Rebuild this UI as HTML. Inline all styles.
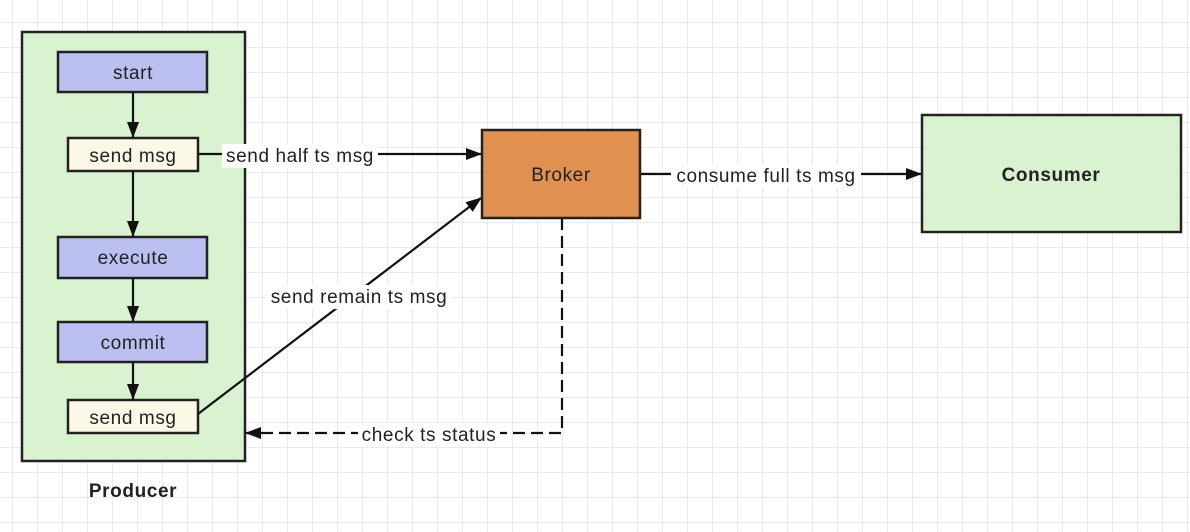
<!DOCTYPE html>
<html><head><style>
html,body{margin:0;padding:0;background:#fff;}
svg{display:block;}
text{font-family:"Liberation Sans",Arial,sans-serif;fill:#222;font-size:19px;letter-spacing:0.6px;}
</style></head><body>
<svg width="1190" height="532" viewBox="0 0 1190 532" xmlns="http://www.w3.org/2000/svg">
<defs>
<pattern id="g" x="12" y="22" width="25" height="25" patternUnits="userSpaceOnUse">
<path d="M0 0H25M0 0V25" stroke="#e4e4e4" stroke-width="1.5" fill="none"/>
</pattern>
<marker id="a" markerWidth="16" markerHeight="12" refX="15" refY="6" orient="auto" markerUnits="userSpaceOnUse">
<path d="M0 0L16 6L0 12z" fill="#111"/>
</marker>
</defs>
<rect width="1190" height="532" fill="url(#g)"/>
<!-- Producer -->
<rect x="22" y="32" width="223" height="429" fill="#d9f2cf" stroke="#222" stroke-width="2.5"/>
<text x="133" y="497" font-weight="bold" text-anchor="middle">Producer</text>
<rect x="58" y="52" width="149" height="40" fill="#bcc0f0" stroke="#222" stroke-width="2.5"/>
<text x="133" y="79" text-anchor="middle">start</text>
<rect x="68" y="138" width="130" height="33" fill="#fbf8e6" stroke="#222" stroke-width="2.5"/>
<text x="133" y="162" text-anchor="middle">send msg</text>
<rect x="58" y="237" width="149" height="41" fill="#bcc0f0" stroke="#222" stroke-width="2.5"/>
<text x="133" y="264" text-anchor="middle">execute</text>
<rect x="58" y="322" width="149" height="40" fill="#bcc0f0" stroke="#222" stroke-width="2.5"/>
<text x="133" y="349" text-anchor="middle">commit</text>
<rect x="68" y="400" width="130" height="33" fill="#fbf8e6" stroke="#222" stroke-width="2.5"/>
<text x="133" y="424" text-anchor="middle">send msg</text>
<g stroke="#111" stroke-width="2.2" fill="none">
<line x1="133" y1="92" x2="133" y2="137" marker-end="url(#a)"/>
<line x1="133" y1="171" x2="133" y2="236" marker-end="url(#a)"/>
<line x1="133" y1="278" x2="133" y2="321" marker-end="url(#a)"/>
<line x1="133" y1="362" x2="133" y2="399" marker-end="url(#a)"/>
<line x1="198" y1="154" x2="481" y2="154" marker-end="url(#a)"/>
<line x1="198" y1="414" x2="481" y2="198" marker-end="url(#a)"/>
<line x1="640" y1="174" x2="921" y2="174" marker-end="url(#a)"/>
<polyline points="562,218 562,433 246,433" stroke-dasharray="12,6" marker-end="url(#a)"/>
</g>
<!-- Broker -->
<rect x="482" y="130" width="158" height="88" fill="#e0904f" stroke="#222" stroke-width="2.5"/>
<text x="561" y="181" text-anchor="middle">Broker</text>
<!-- Consumer -->
<rect x="922" y="115" width="259" height="117" fill="#d9f2cf" stroke="#222" stroke-width="2.5"/>
<text x="1051" y="181" font-weight="bold" text-anchor="middle">Consumer</text>
<!-- labels -->
<rect x="222" y="144" width="156" height="24" fill="#fff"/>
<text x="300" y="162" text-anchor="middle">send half ts msg</text>
<rect x="266" y="285" width="186" height="24" fill="#fff"/>
<text x="359" y="303" text-anchor="middle">send remain ts msg</text>
<rect x="671" y="164" width="190" height="24" fill="#fff"/>
<text x="766" y="182" text-anchor="middle">consume full ts msg</text>
<rect x="358" y="423" width="142" height="24" fill="#fff"/>
<text x="429" y="441" text-anchor="middle">check ts status</text>
</svg>
</body></html>
